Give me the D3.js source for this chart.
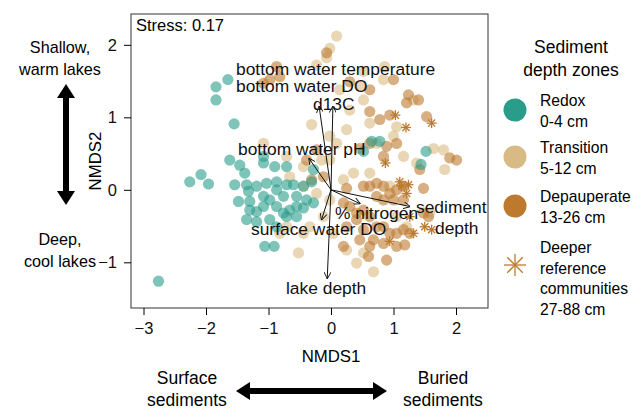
<!DOCTYPE html>
<html><head><meta charset="utf-8">
<script src="https://cdn.jsdelivr.net/npm/d3@7"></script>
<style>body{margin:0;background:#fff}text{font-family:"Liberation Sans",Arial,sans-serif}</style>
</head><body>
<script>
// NMDS scores per sediment depth zone [NMDS1, NMDS2]
var redox = [[-1.65,1.52],[-1.84,1.42],[-1.84,1.24],[-1.55,0.91],[-2.26,0.11],[-2.08,0.21],[-1.96,0.08],[-2.76,-1.26],[-1.62,0.41],[-1.46,0.34],[-1.38,0.23],[-1.08,0.37],[-1.08,0.46],[-0.90,0.32],[-0.71,0.32],[-1.54,0.07],[-1.35,0.07],[-1.32,-0.02],[-1.48,-0.16],[-1.19,0.05],[-1.03,0.09],[-0.87,0.11],[-0.87,0],[-0.71,0.07],[-0.60,0.07],[-0.44,0.05],[-1.30,-0.28],[-1.19,-0.30],[-1.08,-0.23],[-0.98,-0.14],[-0.87,-0.23],[-0.76,-0.32],[-0.66,-0.28],[-0.55,-0.23],[-0.44,-0.25],[-1.35,-0.41],[-1.19,-0.44],[-0.98,-0.41],[-0.87,-0.51],[-0.71,-0.37],[-0.55,-0.37],[-1.06,-0.78],[-0.91,-0.78],[-0.28,0.28],[-0.31,0.11],[0.52,0.53],[0.65,0.67],[0.78,0.67],[1.52,0.53],[1.44,0.35],[-0.28,-0.18],[-0.39,-0.14],[-0.76,-0.09],[-1.08,-0.09],[-1.30,-0.16],[-0.55,-0.09]];
var transition = [[0.09,2.12],[-0.02,1.95],[-0.07,1.82],[-0.23,1.72],[0.52,1.63],[0.86,1.70],[-0.31,0.90],[-0.02,0.74],[0.30,1.10],[0.52,1.24],[0.62,0.92],[0.25,0.83],[0.73,0.64],[1.00,0.74],[1.16,0.46],[1.37,0.37],[1.64,0.57],[1.80,0.55],[1.82,0.28],[-0.02,0.41],[-0.66,0.18],[-0.44,0.05],[-0.23,-0.05],[-0.12,-0.37],[0.04,-0.60],[0.25,-0.83],[0.41,-1.01],[0.68,-1.13],[0.52,-0.87],[-0.44,-0.60],[-0.71,-0.51],[-0.82,-0.60],[-0.34,-0.51],[-0.02,-0.14],[0.20,0.14],[0.36,0.23],[0.62,0.23],[0.94,0.05],[1.05,-0.37],[1.21,-0.51],[1.58,-0.32],[-1.08,0.64],[-0.71,0.46],[-0.15,0.41],[-0.44,0.32],[-0.52,-0.87],[1.32,1.24],[0.84,1.52],[0.46,1.43],[0.14,1.38],[1.05,0.87],[0.09,0.64]];
var depauperate = [[-0.87,1.70],[-0.82,1.56],[-1.08,1.47],[-0.98,1.52],[-0.07,1.89],[0.30,1.49],[0.62,1.38],[1.00,1.52],[1.24,1.31],[1.40,1.24],[1.53,1.01],[0.94,1.03],[0.62,1.08],[0.84,0.46],[1.05,0.64],[0.89,0.60],[0.62,0.64],[0.46,0.57],[-0.39,0.41],[-0.31,0.14],[-0.12,0.18],[0.25,0.02],[0.52,0.05],[0.62,0.05],[0.73,0.09],[0.84,0.05],[0.94,-0.05],[1.05,0],[1.16,0.05],[0.73,-0.09],[0.84,-0.14],[1.00,-0.14],[1.16,-0.14],[0.20,-0.18],[0.30,-0.23],[0.41,-0.32],[0.52,-0.28],[0.62,-0.37],[0.41,-0.41],[0.25,-0.51],[0.52,-0.55],[0.73,-0.51],[0.84,-0.51],[0.94,-0.60],[1.05,-0.60],[1.16,-0.55],[1.26,-0.60],[0.68,-0.69],[0.84,-0.74],[0.46,-0.69],[0.20,-0.78],[0.62,-0.78],[1.05,-0.78],[1.18,-0.76],[1.48,-0.32],[1.56,-0.37],[1.90,0.44],[2.01,0.41],[0.89,-0.97],[0.60,-0.92],[1.48,0.02],[1.42,0.28],[-0.23,0.55],[0.78,0.97],[1.21,1.20]];
var deeper = [[1.03,1.03],[1.20,0.86],[1.61,0.92],[0.87,0.37],[1.10,0.11],[1.24,0.07],[1.21,-0.05],[1.50,-0.51],[1.61,-0.55],[1.32,-0.60],[0.94,-0.71],[1.26,-0.37],[1.13,0.05]];

// environmental vectors
var vectors = [
  {name: "bottom water temperature", x: -0.19, y: 1.15},
  {name: "d13C", x: 0.03, y: 1.15},
  {name: "bottom water pH", x: -0.35, y: 0.43},
  {name: "% nitrogen", x: 0.46, y: -0.19},
  {name: "sediment depth", x: 1.26, y: -0.23},
  {name: "surface water DO", x: -0.15, y: -0.41},
  {name: "lake depth", x: -0.06, y: -1.22}
];
var xTicks = [-3, -2, -1, 0, 1, 2];
var yTicks = [-1, 0, 1, 2];

var teal = "#2a9d8a", tan = "#d8bb84", brown = "#bd7a2f";

var svg = d3.select("body").append("svg").attr("width", 644).attr("height", 415);
var pLeft = 131, pRight = 488, pTop = 14, pBottom = 308;

var x = d3.scaleLinear().domain([-3.2, 2.512]).range([pLeft, pRight]);
var y = d3.scaleLinear().domain([-1.63, 2.425]).range([pBottom, pTop]);

svg.append("rect").attr("x", pLeft).attr("y", pTop).attr("width", pRight - pLeft).attr("height", pBottom - pTop)
  .attr("fill", "none").attr("stroke", "#333");

var fmt = d => d < 0 ? "\u2212" + Math.abs(d) : d;
var xAxis = svg.append("g").attr("transform", `translate(0,${pBottom})`)
  .call(d3.axisBottom(x).tickValues(xTicks).tickSize(7).tickPadding(7).tickFormat(fmt));
var yAxis = svg.append("g").attr("transform", `translate(${pLeft},0)`)
  .call(d3.axisLeft(y).tickValues(yTicks).tickSize(7).tickPadding(7).tickFormat(fmt));
[xAxis, yAxis].forEach(a => {
  a.select(".domain").remove();
  a.selectAll("text").attr("font-size", 16.5).attr("fill", "#111").style("font-family", "Liberation Sans, Arial");
});

function dots(data, color) {
  svg.append("g").selectAll("circle").data(data).enter().append("circle")
    .attr("cx", d => x(d[0])).attr("cy", d => y(d[1])).attr("r", 5.6)
    .attr("fill", color).attr("opacity", 0.6);
}
dots(transition, tan);
dots(depauperate, brown);
dots(redox, teal);

function star(g, cx, cy, s, color) {
  for (var i = 0; i < 4; i++) {
    var a = i * Math.PI / 4;
    g.append("line").attr("x1", cx - s * Math.cos(a)).attr("y1", cy - s * Math.sin(a))
      .attr("x2", cx + s * Math.cos(a)).attr("y2", cy + s * Math.sin(a))
      .attr("stroke", color).attr("stroke-width", 1.3);
  }
}
var starG = svg.append("g");
deeper.forEach(d => star(starG, x(d[0]), y(d[1]), 5, brown));

// arrows
svg.append("defs").append("marker").attr("id", "ah").attr("viewBox", "0 0 10 10")
  .attr("refX", 9).attr("refY", 5).attr("markerWidth", 7).attr("markerHeight", 7).attr("orient", "auto")
  .append("path").attr("d", "M0,0L10,5L0,10").attr("fill", "none").attr("stroke", "#111").attr("stroke-width", 1.3);
svg.append("g").selectAll("line").data(vectors).enter().append("line")
  .attr("x1", x(0)).attr("y1", y(0)).attr("x2", d => x(d.x)).attr("y2", d => y(d.y))
  .attr("stroke", "#111").attr("stroke-width", 1).attr("marker-end", "url(#ah)");

var lab = [
  ["bottom water temperature", 236, 75],
  ["bottom water DO", 236, 92],
  ["d13C", 313, 110],
  ["bottom water pH", 238, 155],
  ["% nitrogen", 335, 219],
  ["sediment", 416, 213],
  ["depth", 435, 234],
  ["surface water DO", 251, 235],
  ["lake depth", 286, 294]
];
svg.append("g").selectAll("text").data(lab).enter().append("text")
  .attr("x", d => d[1]).attr("y", d => d[2]).attr("font-size", 17.4).attr("fill", "#111").text(d => d[0]);

svg.append("text").attr("x", 136).attr("y", 31).attr("font-size", 16.5).text("Stress: 0.17");

// axis titles
svg.append("text").attr("x", 331).attr("y", 362).attr("text-anchor", "middle").attr("font-size", 16.8).text("NMDS1");
svg.append("text").attr("transform", `translate(101,${(pTop + pBottom) / 2}) rotate(-90)`).attr("text-anchor", "middle").attr("font-size", 16.8).text("NMDS2");

// side annotations
function ctext(lines, cx, y0, dy, fs) {
  lines.forEach((t, i) => svg.append("text").attr("x", cx).attr("y", y0 + i * dy).attr("text-anchor", "middle").attr("font-size", fs).text(t));
}
ctext(["Shallow,", "warm lakes"], 60, 53, 22, 16.2);
ctext(["Deep,", "cool lakes"], 60, 245, 22, 16.2);
ctext(["Surface", "sediments"], 187, 384, 22, 17.5);
ctext(["Buried", "sediments"], 443, 384, 22, 17.5);

function dblArrow(x1, y1, x2, y2) {
  var dx = x2 - x1, dy = y2 - y1, L = Math.hypot(dx, dy), ux = dx / L, uy = dy / L, h = 14, w = 9;
  svg.append("line").attr("x1", x1 + ux * h).attr("y1", y1 + uy * h).attr("x2", x2 - ux * h).attr("y2", y2 - uy * h)
    .attr("stroke", "#000").attr("stroke-width", 6);
  [[x1, y1, 1], [x2, y2, -1]].forEach(p => {
    var bx = p[0] + p[2] * ux * h, by = p[1] + p[2] * uy * h;
    svg.append("path").attr("d", `M${p[0]},${p[1]}L${bx - uy * w},${by + ux * w}L${bx + uy * w},${by - ux * w}Z`).attr("fill", "#000");
  });
}
dblArrow(66, 84, 66, 205);
dblArrow(236, 391, 387, 391);

// legend
ctext(["Sediment", "depth zones"], 571, 53, 23, 17.5);
var leg = [[teal, "Redox", "0-4 cm", 110], [tan, "Transition", "5-12 cm", 157], [brown, "Depauperate", "13-26 cm", 206]];
leg.forEach(l => {
  svg.append("circle").attr("cx", 515).attr("cy", l[3]).attr("r", 11.5).attr("fill", l[0]);
  svg.append("text").attr("x", 540).attr("y", l[3] - 4).attr("font-size", 15.7).text(l[1]);
  svg.append("text").attr("x", 540).attr("y", l[3] + 17).attr("font-size", 15.7).text(l[2]);
});
star(svg.append("g"), 515, 265, 11, brown);
["Deeper", "reference", "communities", "27-88 cm"].forEach((t, i) =>
  svg.append("text").attr("x", 540).attr("y", 253 + i * 20.5).attr("font-size", 15.7).text(t));
</script>
</body></html>
